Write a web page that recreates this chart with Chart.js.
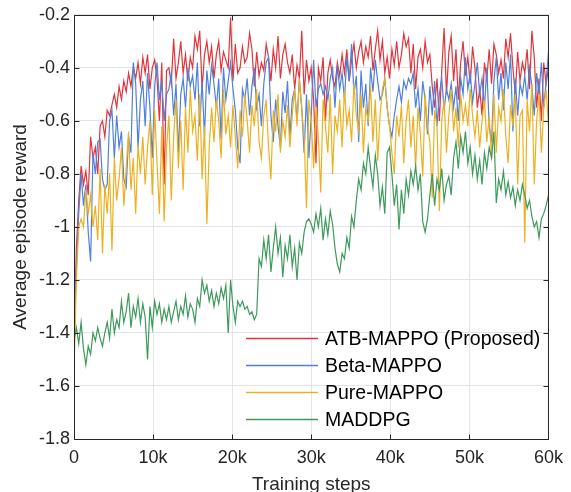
<!DOCTYPE html>
<html>
<head>
<meta charset="utf-8">
<script src="https://cdn.jsdelivr.net/npm/chart.js@4/dist/chart.umd.min.js"></script>
<style>
html,body{margin:0;padding:0;background:#fff;}
#wrap{width:571px;height:492px;}
</style>
</head>
<body>
<div id="wrap"><canvas id="c" width="571" height="492"></canvas></div>
<script>
// ---- data ----
const seriesNames = ['ATB-MAPPO (Proposed)', 'Beta-MAPPO', 'Pure-MAPPO', 'MADDPG'];
const seriesColors = ['#e0353b', '#4f80da', '#edb120', '#3e9a5c'];
const stepInterval = 300; // training steps between logged points

const atbMappo = [
-1.45,-1.08,-0.90,-0.77,-0.84,-0.79,-0.88,-0.66,-0.74,-0.70,
-0.80,-0.62,-0.60,-0.66,-0.56,-0.58,-0.54,-0.50,-0.55,-0.47,
-0.52,-0.45,-0.49,-0.42,-0.47,-0.40,-0.44,-0.38,-0.46,-0.36,
-0.42,-0.35,-0.48,-0.40,-0.37,-0.44,-0.60,-0.38,-0.84,-0.41,
-0.40,-0.46,-0.29,-0.44,-0.38,-0.30,-0.42,-0.35,-0.45,-0.36,
-0.40,-0.28,-0.33,-0.26,-0.48,-0.35,-0.30,-0.38,-0.32,-0.44,
-0.35,-0.30,-0.41,-0.34,-0.37,-0.40,-0.21,-0.45,-0.31,-0.42,
-0.40,-0.32,-0.38,-0.36,-0.27,-0.33,-0.47,-0.34,-0.43,-0.38,
-0.41,-0.31,-0.36,-0.45,-0.33,-0.40,-0.28,-0.44,-0.35,-0.31,
-0.38,-0.42,-0.35,-0.48,-0.39,-0.44,-0.26,-0.50,-0.37,-0.45,
-0.40,-0.52,-0.76,-0.40,-0.45,-0.36,-0.60,-0.42,-0.37,-0.44,
-0.47,-0.38,-0.43,-0.35,-0.42,-0.33,-0.45,-0.37,-0.31,-0.40,
-0.34,-0.30,-0.38,-0.32,-0.36,-0.28,-0.41,-0.33,-0.26,-0.37,
-0.30,-0.42,-0.36,-0.44,-0.33,-0.39,-0.30,-0.40,-0.35,-0.27,
-0.32,-0.29,-0.42,-0.31,-0.48,-0.36,-0.33,-0.40,-0.30,-0.38,
-0.35,-0.47,-0.55,-0.44,-0.60,-0.41,-0.25,-0.50,-0.34,-0.28,
-0.45,-0.33,-0.52,-0.38,-0.30,-0.43,-0.36,-0.46,-0.32,-0.40,
-0.55,-0.48,-0.58,-0.38,-0.44,-0.33,-0.46,-0.31,-0.35,-0.42,
-0.37,-0.44,-0.29,-0.36,-0.27,-0.40,-0.50,-0.34,-0.45,-0.38,
-0.42,-0.33,-0.48,-0.26,-0.36,-0.55,-0.44,-0.60,-0.38,-0.46,-0.40
];

const betaMappo = [
-1.42,-1.15,-0.95,-0.80,-0.92,-0.84,-1.02,-1.13,-0.72,-0.80,
-0.68,-0.67,-0.82,-0.86,-0.84,-0.60,-0.56,-0.74,-0.58,-0.70,
-0.64,-0.82,-0.85,-0.66,-0.72,-0.38,-0.46,-0.70,-0.52,-0.45,
-0.62,-0.42,-0.55,-0.74,-0.47,-0.38,-0.52,-0.45,-0.60,-0.50,
-0.48,-0.42,-0.58,-0.46,-0.72,-0.50,-0.44,-0.55,-0.40,-0.47,
-0.43,-0.52,-0.38,-0.62,-0.45,-0.66,-0.41,-0.50,-0.39,-0.46,
-0.55,-0.44,-0.67,-0.40,-0.52,-0.45,-0.38,-0.48,-0.56,-0.70,
-0.76,-0.48,-0.52,-0.44,-0.58,-0.47,-0.40,-0.55,-0.50,-0.62,
-0.46,-0.38,-0.36,-0.58,-0.68,-0.52,-0.62,-0.70,-0.49,-0.57,
-0.45,-0.66,-0.52,-0.48,-0.60,-0.44,-0.55,-0.72,-0.50,-0.74,
-0.58,-0.37,-0.55,-0.48,-0.46,-0.50,-0.47,-0.52,-0.44,-0.40,
-0.55,-0.39,-0.48,-0.42,-0.52,-0.36,-0.45,-0.31,-0.50,-0.43,
-0.68,-0.41,-0.55,-0.46,-0.62,-0.40,-0.49,-0.37,-0.45,-0.52,
-0.50,-0.44,-0.55,-0.62,-0.66,-0.58,-0.52,-0.47,-0.53,-0.45,
-0.48,-0.44,-0.46,-0.42,-0.55,-0.48,-0.60,-0.45,-0.52,-0.65,
-0.47,-0.58,-0.45,-0.62,-0.50,-0.44,-0.56,-0.48,-0.52,-0.46,
-0.55,-0.47,-0.60,-0.44,-0.50,-0.36,-0.48,-0.42,-0.53,-0.46,
-0.38,-0.50,-0.44,-0.55,-0.40,-0.62,-0.68,-0.45,-0.36,-0.52,
-0.42,-0.56,-0.38,-0.48,-0.35,-0.64,-0.44,-0.58,-0.46,-0.50,
-0.43,-0.52,-0.40,-0.47,-0.58,-0.42,-0.50,-0.38,-0.55,-0.45,-0.34
];

const pureMappo = [
-1.55,-1.20,-1.00,-0.97,-1.00,-0.86,-0.95,-0.88,-1.00,-0.92,
-1.05,-0.78,-1.10,-0.84,-0.95,-0.80,-1.09,-0.74,-0.90,-0.82,
-0.70,-0.92,-0.78,-0.64,-0.86,-0.74,-0.95,-0.69,-0.80,-0.66,
-0.84,-0.70,-0.60,-0.88,-0.56,-0.76,-0.95,-0.62,-0.98,-0.70,
-0.58,-0.90,-0.66,-0.52,-0.78,-0.60,-0.86,-0.55,-0.72,-0.48,
-0.64,-0.58,-0.75,-0.50,-0.82,-0.62,-0.99,-0.70,-0.55,-0.68,
-0.52,-0.60,-0.74,-0.48,-0.65,-0.58,-0.70,-0.54,-0.66,-0.78,
-0.56,-0.66,-0.50,-0.60,-0.72,-0.54,-0.62,-0.48,-0.68,-0.74,
-0.58,-0.52,-0.70,-0.82,-0.56,-0.64,-0.50,-0.72,-0.60,-0.66,
-0.54,-0.70,-0.58,-0.48,-0.62,-0.44,-0.56,-0.66,-0.93,-0.52,
-0.60,-0.78,-0.55,-0.66,-0.87,-0.52,-0.62,-0.72,-0.50,-0.80,
-0.58,-0.64,-0.52,-0.70,-0.48,-0.62,-0.56,-0.68,-0.46,-0.58,
-0.64,-0.50,-0.72,-0.55,-0.60,-0.47,-0.68,-0.52,-0.75,-0.58,
-0.48,-0.44,-0.55,-0.62,-0.72,-0.80,-0.58,-0.66,-0.54,-0.76,
-0.60,-0.52,-0.70,-0.58,-0.78,-0.55,-0.65,-0.81,-0.50,-0.62,
-0.68,-0.89,-0.56,-0.62,-0.94,-0.60,-0.52,-0.72,-0.58,-0.48,
-0.64,-0.55,-0.70,-0.50,-0.60,-0.54,-0.62,-0.48,-0.58,-0.66,
-0.56,-0.70,-0.60,-0.52,-0.68,-0.58,-0.74,-0.50,-0.72,-0.55,
-0.60,-0.48,-0.66,-0.76,-0.54,-0.62,-0.50,-0.84,-0.58,-0.56,
-1.06,-0.52,-0.64,-0.46,-0.84,-0.60,-0.50,-0.72,-0.55,-0.48,-0.62
];

const maddpg = [
-1.43,-1.38,-1.44,-1.36,-1.46,-1.52,-1.45,-1.48,-1.40,-1.43,
-1.38,-1.42,-1.45,-1.40,-1.36,-1.42,-1.31,-1.40,-1.35,-1.38,
-1.28,-1.36,-1.32,-1.25,-1.38,-1.30,-1.34,-1.27,-1.36,-1.29,
-1.34,-1.50,-1.30,-1.38,-1.28,-1.33,-1.29,-1.36,-1.31,-1.35,
-1.30,-1.36,-1.32,-1.28,-1.35,-1.30,-1.33,-1.26,-1.34,-1.29,
-1.31,-1.36,-1.27,-1.30,-1.20,-1.25,-1.22,-1.28,-1.24,-1.30,
-1.25,-1.29,-1.23,-1.27,-1.22,-1.40,-1.20,-1.30,-1.36,-1.28,
-1.30,-1.28,-1.31,-1.30,-1.33,-1.32,-1.35,-1.33,-1.12,-1.15,
-1.05,-1.12,-1.03,-1.17,-1.08,-1.00,-1.10,-1.04,-1.19,-1.07,
-1.12,-1.03,-1.15,-1.08,-1.20,-1.06,-1.10,-1.02,-0.98,-0.97,
-0.99,-1.02,-0.95,-1.00,-0.93,-1.05,-0.97,-1.03,-0.94,-0.99,
-1.08,-1.14,-1.17,-1.10,-1.12,-1.04,-1.08,-0.96,-1.00,-0.90,
-0.82,-0.86,-0.76,-0.80,-0.70,-0.78,-0.85,-0.73,-0.80,-0.92,
-0.85,-0.95,-0.72,-0.70,-0.80,-0.92,-0.84,-1.01,-0.86,-0.95,
-0.82,-0.88,-0.79,-0.84,-0.77,-0.86,-0.80,-0.98,-1.02,-0.97,
-0.88,-0.80,-0.92,-0.82,-0.86,-0.78,-0.90,-0.84,-0.81,-0.88,
-0.74,-0.68,-0.78,-0.66,-0.72,-0.64,-0.76,-0.70,-0.80,-0.73,
-0.82,-0.75,-0.84,-0.72,-0.78,-0.70,-0.74,-0.64,-0.91,-0.82,
-0.86,-0.79,-0.88,-0.83,-0.89,-0.85,-0.92,-0.86,-0.90,-0.84,
-0.88,-0.93,-0.90,-0.96,-1.00,-0.98,-1.04,-0.97,-0.95,-0.92,-0.88
];

const xTickValues = [0, 10000, 20000, 30000, 40000, 50000, 60000];
const xTickLabels = ['0', '10k', '20k', '30k', '40k', '50k', '60k'];
const yTickValues = [-1.8, -1.6, -1.4, -1.2, -1, -0.8, -0.6, -0.4, -0.2];
const yTickLabels = ['-1.8', '-1.6', '-1.4', '-1.2', '-1', '-0.8', '-0.6', '-0.4', '-0.2'];
const xTitle = 'Training steps';
const yTitle = 'Average episode reward';

// ---- build ----
const allSeries = [atbMappo, betaMappo, pureMappo, maddpg];
const FONT = '"Liberation Sans", Arial, Helvetica, sans-serif';
const AXIS = '#262626';

const datasets = allSeries.map((vals, k) => ({
  label: seriesNames[k],
  data: vals.map((v, i) => ({ x: i * stepInterval, y: v })),
  borderColor: seriesColors[k],
  backgroundColor: seriesColors[k],
  borderWidth: 1.2,
  pointRadius: 0,
  tension: 0,
  fill: false,
  order: allSeries.length - k
}));

const framePlugin = {
  id: 'frame',
  afterDatasetsDraw(chart) {
    const { ctx, chartArea: a, scales: { x, y } } = chart;
    const L = Math.round(a.left) + 0.5, R = Math.round(a.right) + 0.5;
    const T = Math.round(a.top) + 0.5, B = Math.round(a.bottom) + 0.5;
    const tl = 5;
    ctx.save();
    ctx.strokeStyle = AXIS;
    ctx.lineWidth = 1;
    ctx.beginPath();
    ctx.moveTo(L, T); ctx.lineTo(R, T); ctx.lineTo(R, B); ctx.lineTo(L, B); ctx.closePath();
    xTickValues.forEach(v => {
      const px = Math.round(x.getPixelForValue(v)) + 0.5;
      ctx.moveTo(px, B); ctx.lineTo(px, B - tl);
      ctx.moveTo(px, T); ctx.lineTo(px, T + tl);
    });
    yTickValues.forEach(v => {
      const py = Math.round(y.getPixelForValue(v)) + 0.5;
      ctx.moveTo(L, py); ctx.lineTo(L + tl, py);
      ctx.moveTo(R, py); ctx.lineTo(R - tl, py);
    });
    ctx.stroke();
    ctx.restore();
  }
};

const legendPlugin = {
  id: 'cornerLegend',
  afterDraw(chart) {
    const { ctx, chartArea: a } = chart;
    const x0 = a.left + 172, x1 = a.left + 244, tx = a.left + 251;
    const y0 = a.top + 323, dy = 27;
    ctx.save();
    ctx.font = '19.5px ' + FONT;
    ctx.textBaseline = 'middle';
    ctx.textAlign = 'left';
    chart.data.datasets.forEach((ds, i) => {
      const yy = Math.round(y0 + i * dy) + 0.5;
      ctx.strokeStyle = ds.borderColor;
      ctx.lineWidth = 1.4;
      ctx.beginPath(); ctx.moveTo(x0, yy); ctx.lineTo(x1, yy); ctx.stroke();
      ctx.fillStyle = '#000';
      ctx.fillText(ds.label, tx, yy + 1);
    });
    ctx.restore();
  }
};

new Chart(document.getElementById('c'), {
  type: 'line',
  data: { datasets },
  options: {
    responsive: false,
    animation: false,
    devicePixelRatio: 1,
    layout: { padding: { left: 0, right: 22, top: 13, bottom: 0 } },
    plugins: { legend: { display: false }, tooltip: { enabled: false } },
    scales: {
      x: {
        type: 'linear', min: 0, max: 60000,
        afterBuildTicks: s => { s.ticks = xTickValues.map(v => ({ value: v })); },
        afterFit: s => { s.height = 53; },
        grid: { color: '#e4e4e4', lineWidth: 1, drawTicks: false },
        border: { display: false },
        ticks: {
          color: AXIS, padding: 8, maxRotation: 0, autoSkip: false,
          font: { family: FONT, size: 18 },
          callback: (v, i) => xTickLabels[i]
        },
        title: { display: true, text: xTitle, color: AXIS, font: { family: FONT, size: 19, lineHeight: 0.8 }, padding: { top: 0, bottom: 0 } }
      },
      y: {
        type: 'linear', min: -1.8, max: -0.2,
        afterBuildTicks: s => { s.ticks = yTickValues.map(v => ({ value: v })); },
        afterFit: s => { s.width = 74; },
        grid: { color: '#e4e4e4', lineWidth: 1, drawTicks: false },
        border: { display: false },
        ticks: {
          color: AXIS, padding: 4, autoSkip: false,
          font: { family: FONT, size: 18 },
          callback: (v, i) => yTickLabels[i]
        },
        title: { display: true, text: yTitle, color: AXIS, font: { family: FONT, size: 19, lineHeight: 1 }, padding: { top: 11, bottom: 0 } }
      }
    }
  },
  plugins: [framePlugin, legendPlugin]
});
</script>
</body>
</html>
